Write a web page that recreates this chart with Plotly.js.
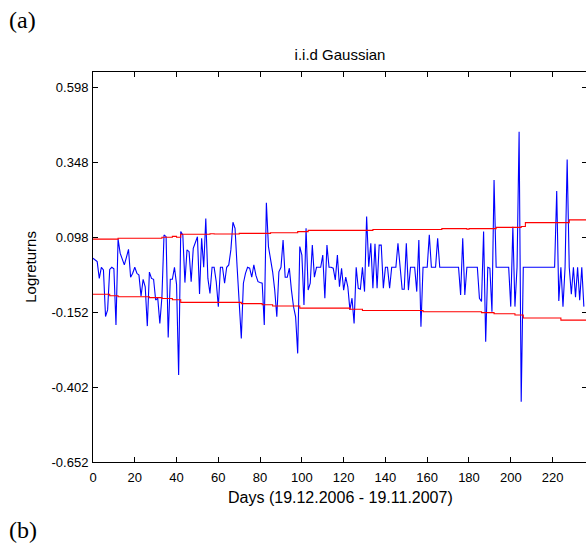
<!DOCTYPE html>
<html>
<head>
<meta charset="utf-8">
<script src="https://cdn.plot.ly/plotly-3.0.1.min.js"></script>
<style>
html,body{margin:0;padding:0;overflow:hidden;background:#fff;}
#chart{width:590px;height:550px;}
</style>
</head>
<body>
<div id="chart"></div>
<script>
// Log-returns (blue), one value per day starting at day 0
const logreturns = [
 0.027, 0.022, 0.016,-0.040,-0.003,-0.012,-0.167,-0.145,-0.010,-0.003,
-0.008,-0.195, 0.091, 0.044, 0.025, 0.005, 0.030, 0.057,-0.036,-0.023,
-0.003,-0.023,-0.029,-0.099,-0.043,-0.068,-0.199,-0.019,-0.040,-0.043,
-0.112,-0.106,-0.190,-0.101, 0.105, 0.099,-0.237,-0.043,-0.043,-0.003,
-0.060,-0.362, 0.116, 0.105,-0.054, 0.055, 0.049,-0.051, 0.060, 0.080,
 0.099,-0.092, 0.094,-0.003, 0.160,-0.040,-0.090,-0.003,-0.003,-0.051,
-0.134,-0.003,-0.003,-0.056,-0.003, 0.005, 0.055, 0.147, 0.127,-0.003,
-0.120,-0.240,-0.056,-0.023,-0.003,-0.006,-0.036, 0.005,-0.030,-0.051,
-0.054,-0.056,-0.195, 0.212, 0.066, 0.030,-0.018,-0.079,-0.168,-0.018,
-0.003, 0.088,-0.036,-0.036,-0.006,-0.079,-0.134,-0.168,-0.290, 0.066,
 0.038,-0.129, 0.127,-0.079,-0.056, 0.071,-0.036,-0.003,-0.003,-0.003,
 0.038,-0.106, 0.071,-0.003,-0.003,-0.006,-0.045, 0.038,-0.068,-0.006,
-0.079,-0.036,-0.068,-0.145,-0.106,-0.190,-0.003,-0.073,-0.076,-0.003,
-0.084, 0.166,-0.001, 0.077,-0.073, 0.075,-0.073, 0.071, 0.071,-0.073,
-0.003,-0.003,-0.073,-0.003,-0.003,-0.003, 0.077,-0.003,-0.076,-0.076,
 0.077,-0.079,-0.003,-0.003,-0.003,-0.084, 0.088,-0.201,-0.003,-0.003,
-0.003, 0.105,-0.003,-0.003,-0.003, 0.094,-0.003,-0.003,-0.003,-0.003,
-0.003,-0.003,-0.003,-0.003,-0.003,-0.003,-0.095, 0.094,-0.095,-0.003,
-0.003,-0.003,-0.003,-0.003,-0.003,-0.106,-0.117, 0.116,-0.251,-0.003,
-0.006,-0.151, 0.288,-0.003,-0.003,-0.003,-0.003,-0.003,-0.003,-0.003,
-0.134, 0.132,-0.134,-0.003, 0.449,-0.451,-0.003,-0.003,-0.003,-0.003,
-0.003,-0.003,-0.003,-0.003,-0.003,-0.003,-0.003,-0.003,-0.003,-0.003,
-0.003,-0.003, 0.251,-0.115,-0.003,-0.134,-0.003, 0.356,-0.003,-0.093,
-0.003,-0.103,-0.003,-0.113,-0.003,-0.134
];

// Upper band (red), step change points
const upperDays = [0, 12, 33, 38, 40, 42, 56, 58, 70, 85, 98, 103, 134, 167, 179, 180, 193, 205, 207, 228, 237];
const upperVals = [0.091, 0.094, 0.097, 0.100, 0.097, 0.107, 0.109, 0.108, 0.110, 0.112, 0.116, 0.120, 0.123, 0.126, 0.124, 0.126, 0.130, 0.133, 0.146, 0.155, 0.155];

// Lower band (red), step change points
const lowerDays = [0, 8, 12, 27, 33, 38, 42, 71, 81, 86, 99, 123, 129, 158, 186, 192, 202, 206, 224, 237];
const lowerVals = [-0.093, -0.098, -0.101, -0.104, -0.107, -0.111, -0.120, -0.124, -0.128, -0.132, -0.139, -0.143, -0.147, -0.151, -0.154, -0.158, -0.162, -0.172, -0.179, -0.179];

const yTicks = [-0.652, -0.402, -0.152, 0.098, 0.348, 0.598];
const yTickText = ["-0.652", "-0.402", "-0.152", "0.098", "0.348", "0.598"];
const xTicks = [0, 20, 40, 60, 80, 100, 120, 140, 160, 180, 200, 220];

const days = logreturns.map((_, i) => i);

const font = "Liberation Sans, Arial, sans-serif";
const serif = "Liberation Serif, Times New Roman, serif";

const traces = [
  {x: days, y: logreturns, type: "scatter", mode: "lines",
   line: {color: "#0000ff", width: 1.1}, hoverinfo: "skip"},
  {x: upperDays, y: upperVals, type: "scatter", mode: "lines",
   line: {color: "#ff0000", width: 1.1, shape: "hv"}, hoverinfo: "skip"},
  {x: lowerDays, y: lowerVals, type: "scatter", mode: "lines",
   line: {color: "#ff0000", width: 1.1, shape: "hv"}, hoverinfo: "skip"}
];

const axisCommon = {
  showgrid: false, zeroline: false, showline: true, linecolor: "#000", linewidth: 1,
  ticks: "inside", ticklen: 5, tickcolor: "#000", tickwidth: 1, mirror: "ticks",
  tickfont: {family: font, size: 13, color: "#000"}
};

const layout = {
  width: 590, height: 550,
  margin: {l: 93, r: 3, t: 72, b: 88},
  paper_bgcolor: "#fff", plot_bgcolor: "#fff",
  showlegend: false,
  title: {text: "i.i.d Gaussian", font: {family: font, size: 15, color: "#000"},
          x: 0.5, xref: "paper", xanchor: "center", y: 0.9, yanchor: "middle"},
  xaxis: Object.assign({}, axisCommon, {
    range: [0, 236.5], tickvals: xTicks, ticktext: xTicks.map(String),
    ticklabelstandoff: 3
  }),
  yaxis: Object.assign({}, axisCommon, {
    range: [-0.652, 0.648], tickvals: yTicks, ticktext: yTickText,
    ticklabelstandoff: 1
  }),
  annotations: [
    {text: "Days (19.12.2006 - 19.11.2007)", xref: "paper", yref: "paper", x: 0.5, y: -0.09,
     xanchor: "center", yanchor: "middle", showarrow: false,
     font: {family: font, size: 16, color: "#000"}},
    {text: "Logreturns", xref: "paper", yref: "paper", x: -0.128, y: 0.5, textangle: -90,
     xanchor: "center", yanchor: "middle", showarrow: false,
     font: {family: font, size: 15, color: "#000"}},
    {text: "(a)", xref: "paper", yref: "paper", x: -0.174, y: 1.133, xanchor: "left", yanchor: "middle",
     showarrow: false, font: {family: serif, size: 24, color: "#000"}},
    {text: "(b)", xref: "paper", yref: "paper", x: -0.174, y: -0.174, xanchor: "left", yanchor: "middle",
     showarrow: false, font: {family: serif, size: 24, color: "#000"}}
  ]
};

Plotly.newPlot("chart", traces, layout, {displayModeBar: false, staticPlot: true});
</script>
</body>
</html>
